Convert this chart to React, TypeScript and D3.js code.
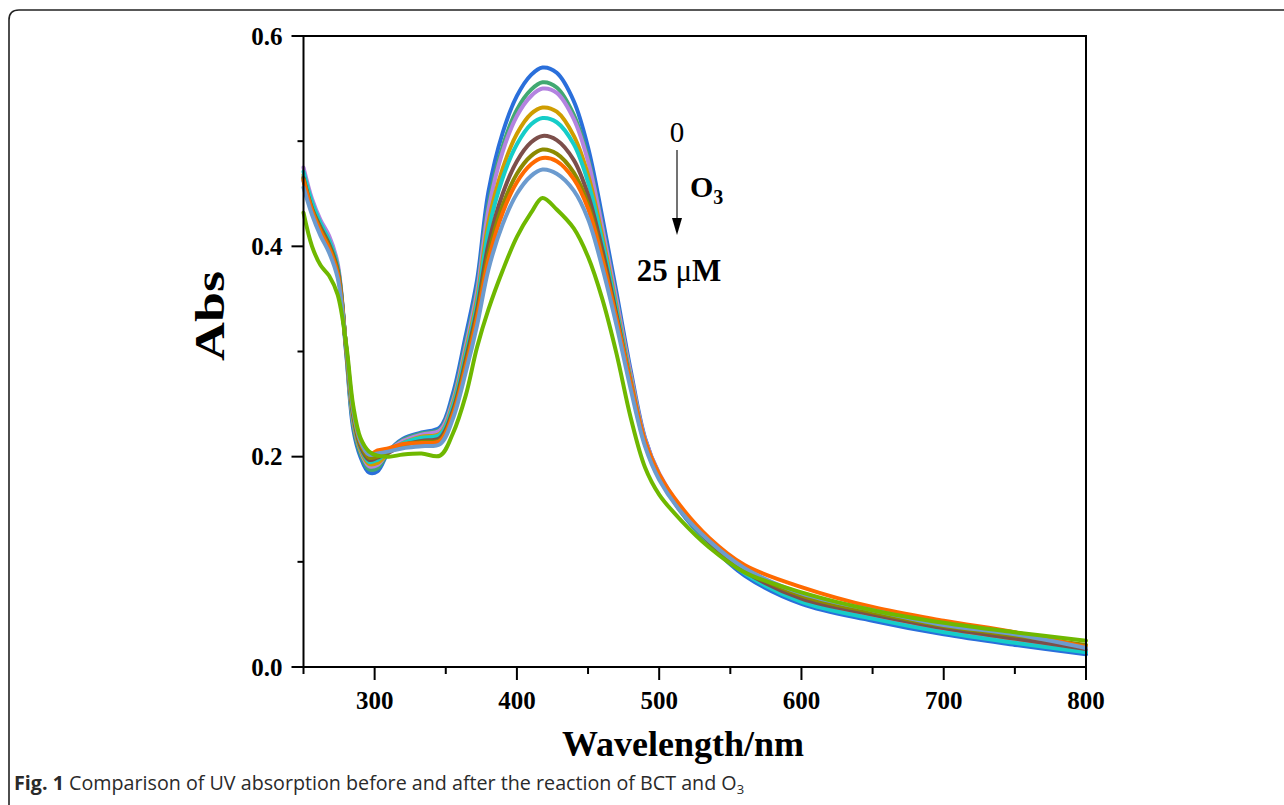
import React from "react";
import * as d3 from "d3";

// Wavelength grid (nm)
const wavelengths = [250,256,262,268,274,280,285,290,296,302,310,320,333,346,355,364,372,380,390,400,410,418,428,440,450,460,470,480,490,500,515,535,560,600,650,700,750,800];

// Absorbance series, ordered from 0 µM O3 (top at peak) to 25 µM
const s0 = [0.462,0.433,0.416,0.402,0.378,0.298,0.226,0.200,0.185,0.186,0.205,0.217,0.223,0.228,0.260,0.315,0.368,0.452,0.508,0.543,0.563,0.570,0.565,0.538,0.494,0.428,0.356,0.282,0.218,0.183,0.148,0.117,0.087,0.060,0.044,0.031,0.021,0.012];
const s1 = [0.466,0.437,0.419,0.404,0.380,0.300,0.230,0.203,0.188,0.189,0.205,0.216,0.222,0.226,0.255,0.308,0.360,0.440,0.495,0.530,0.549,0.556,0.551,0.525,0.484,0.420,0.350,0.278,0.216,0.183,0.150,0.119,0.090,0.063,0.047,0.034,0.024,0.015];
const s2 = [0.475,0.445,0.425,0.410,0.384,0.302,0.233,0.206,0.191,0.192,0.205,0.215,0.221,0.225,0.253,0.305,0.357,0.435,0.490,0.524,0.543,0.550,0.546,0.521,0.481,0.418,0.349,0.278,0.217,0.184,0.151,0.120,0.092,0.065,0.049,0.035,0.026,0.016];
const s3 = [0.468,0.440,0.420,0.405,0.380,0.302,0.235,0.207,0.193,0.194,0.204,0.213,0.219,0.222,0.250,0.300,0.350,0.423,0.474,0.507,0.526,0.532,0.528,0.505,0.468,0.410,0.343,0.274,0.215,0.183,0.150,0.120,0.092,0.066,0.050,0.037,0.027,0.018];
const s4 = [0.471,0.442,0.422,0.406,0.381,0.303,0.237,0.209,0.195,0.197,0.205,0.213,0.218,0.221,0.248,0.297,0.346,0.415,0.465,0.497,0.516,0.522,0.518,0.497,0.461,0.405,0.340,0.272,0.214,0.182,0.149,0.118,0.089,0.062,0.046,0.033,0.023,0.014];
const s5 = [0.465,0.436,0.418,0.402,0.378,0.303,0.239,0.210,0.197,0.199,0.204,0.211,0.215,0.218,0.244,0.292,0.340,0.402,0.450,0.481,0.499,0.505,0.501,0.482,0.449,0.397,0.335,0.270,0.213,0.181,0.149,0.119,0.091,0.065,0.050,0.037,0.027,0.017];
const s6 = [0.464,0.435,0.416,0.400,0.376,0.304,0.241,0.212,0.199,0.200,0.205,0.211,0.214,0.216,0.241,0.288,0.335,0.393,0.439,0.469,0.486,0.492,0.488,0.470,0.440,0.390,0.331,0.268,0.212,0.181,0.149,0.120,0.093,0.068,0.052,0.039,0.030,0.021];
const s7 = [0.463,0.434,0.414,0.398,0.374,0.304,0.243,0.214,0.202,0.206,0.208,0.212,0.213,0.215,0.240,0.285,0.332,0.387,0.432,0.461,0.478,0.484,0.481,0.464,0.436,0.388,0.331,0.270,0.215,0.183,0.153,0.123,0.097,0.076,0.057,0.044,0.033,0.019];
const s8 = [0.456,0.430,0.410,0.394,0.370,0.305,0.244,0.215,0.202,0.203,0.205,0.208,0.210,0.212,0.236,0.280,0.325,0.378,0.421,0.450,0.467,0.473,0.469,0.453,0.426,0.380,0.325,0.264,0.210,0.178,0.148,0.120,0.094,0.070,0.054,0.040,0.031,0.018];
const s9 = [0.432,0.400,0.382,0.372,0.354,0.307,0.248,0.218,0.205,0.201,0.200,0.202,0.203,0.201,0.222,0.258,0.304,0.340,0.377,0.409,0.432,0.446,0.435,0.417,0.390,0.350,0.298,0.237,0.190,0.164,0.140,0.114,0.090,0.071,0.054,0.042,0.033,0.025];

const seriesList = [s0, s1, s2, s3, s4, s5, s6, s7, s8, s9];
const seriesColors = ["#2a6fdb","#41a872","#b383e0","#cf9d00","#16cdc8","#7c4f4b","#8c8a00","#ff6a00","#6c9bcf","#6fb800"];

const xTicks = [300, 400, 500, 600, 700, 800];
const xMinorTicks = [250, 350, 450, 550, 650, 750];
const yTicks = [0.0, 0.2, 0.4, 0.6];
const yMinorTicks = [0.1, 0.3, 0.5];

const serif = "'Liberation Serif', 'Times New Roman', serif";

export default function App() {
  const left = 303.5, right = 1086, top = 36, bottom = 667;
  const x = d3.scaleLinear().domain([250, 800]).range([left, right]);
  const y = d3.scaleLinear().domain([0, 0.6]).range([bottom, top]);
  const line = d3
    .line<number>()
    .x((_, i) => x(wavelengths[i]))
    .y((d) => y(d))
    .curve(d3.curveCatmullRom.alpha(0.5));

  const frame = `M 9 900 L 9 20 Q 9 10 19 10 L 1300 10`;

  return (
    <svg
      width={1284}
      height={805}
      style={{ position: "absolute", left: 0, top: 0, background: "#fff" }}
    >
      <rect x={0} y={0} width={1284} height={805} fill="#fff" />
      <path d={frame} fill="none" stroke="#222" strokeWidth={1.6} />

      {/* curves */}
      <g fill="none" strokeWidth={4} strokeLinejoin="round" strokeLinecap="round">
        {seriesList.map((s, i) => (
          <path key={i} d={line(s) || ""} stroke={seriesColors[i]} />
        ))}
      </g>

      {/* plot box */}
      <rect x={left} y={top} width={right - left} height={bottom - top} fill="none" stroke="#000" strokeWidth={2} />

      {/* ticks */}
      <g stroke="#000" strokeWidth={2}>
        {yTicks.map((t) => (
          <line key={"yt" + t} x1={left - 12} x2={left} y1={y(t)} y2={y(t)} />
        ))}
        {yMinorTicks.map((t) => (
          <line key={"ym" + t} x1={left - 6} x2={left} y1={y(t)} y2={y(t)} />
        ))}
        {xTicks.map((t) => (
          <line key={"xt" + t} x1={x(t)} x2={x(t)} y1={bottom} y2={bottom + 13} />
        ))}
        {xMinorTicks.map((t) => (
          <line key={"xm" + t} x1={x(t)} x2={x(t)} y1={bottom} y2={bottom + 7} />
        ))}
      </g>

      <g fontFamily={serif} fontWeight="bold" fontSize={25} fill="#000">
        {yTicks.map((t) => (
          <text key={"yl" + t} x={left - 21} y={y(t)} dy="0.35em" textAnchor="end">
            {t.toFixed(1)}
          </text>
        ))}
        {xTicks.map((t) => (
          <text key={"xl" + t} x={x(t)} y={709} textAnchor="middle">
            {t}
          </text>
        ))}
      </g>

      {/* axis titles */}
      <text
        x={683}
        y={756}
        textAnchor="middle"
        fontFamily={serif}
        fontWeight="bold"
        fontSize={36}
        fill="#000"
      >
        Wavelength/nm
      </text>
      <text
        transform={`translate(224, 316) rotate(-90)`}
        textAnchor="middle"
        fontFamily={serif}
        fontWeight="bold"
        fontSize={42}
        textLength={90}
        lengthAdjust="spacingAndGlyphs"
        fill="#000"
      >
        Abs
      </text>

      {/* annotation */}
      <g fontFamily={serif} fill="#000">
        <text x={677} y={142} textAnchor="middle" fontSize={29}>0</text>
        <line x1={677} x2={677} y1={150} y2={222} stroke="#444" strokeWidth={1.5} />
        <path d="M 672 218 L 682 218 L 677 235 Z" fill="#000" />
        <text x={690} y={197} fontSize={30} fontWeight="bold">
          O<tspan fontSize={20} dy={7}>3</tspan>
        </text>
        <text x={679} y={281} textAnchor="middle" fontSize={31}>
          <tspan fontWeight="bold">25 </tspan>
          <tspan>μ</tspan>
          <tspan fontWeight="bold">M</tspan>
        </text>
      </g>

      {/* caption */}
      <text x={14} y={790} fontFamily="'Open Sans', sans-serif" fontSize={19.7} fill="#2a2a2a">
        <tspan fontWeight="bold">Fig. 1</tspan>
        <tspan> Comparison of UV absorption before and after the reaction of BCT and O</tspan>
        <tspan fontSize={13} dy={4}>3</tspan>
      </text>
    </svg>
  );
}
